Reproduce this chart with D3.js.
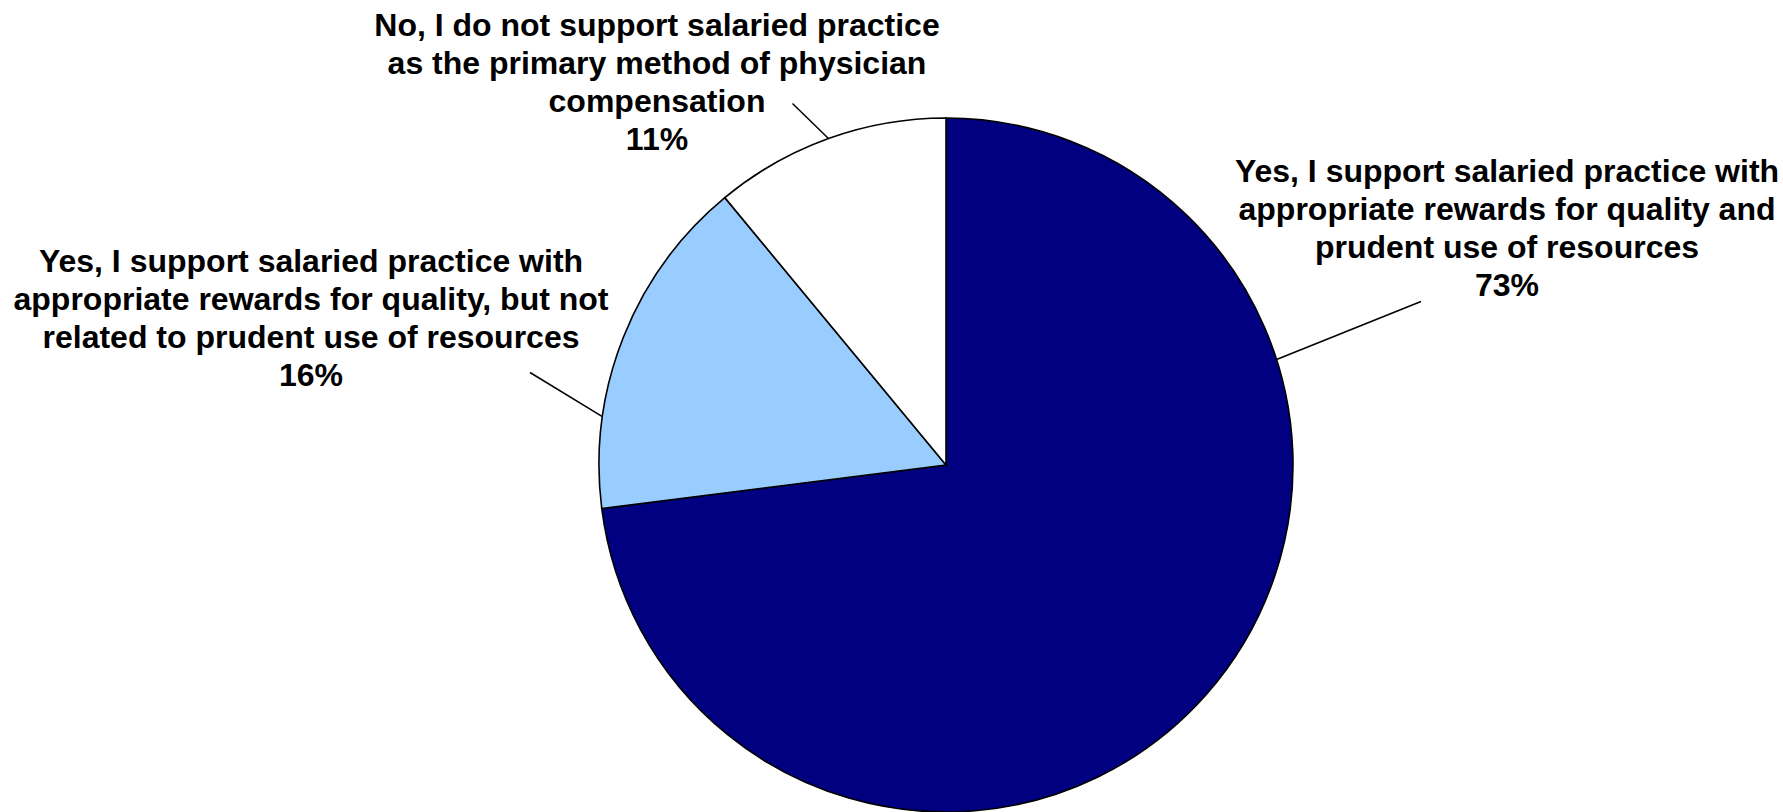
<!DOCTYPE html>
<html>
<head>
<meta charset="utf-8">
<script src="https://cdn.jsdelivr.net/npm/d3@7"></script>
<style>
  html, body { margin: 0; padding: 0; background: #ffffff; }
  svg { display: block; }
  text { font-family: "Liberation Sans", Arial, sans-serif; font-weight: bold; fill: #000; }
</style>
</head>
<body>
<svg id="chart" width="1783" height="812"></svg>
<script>
// ---- Data ----
const categories = [
  "Yes, I support salaried practice with appropriate rewards for quality and prudent use of resources",
  "Yes, I support salaried practice with appropriate rewards for quality, but not related to prudent use of resources",
  "No, I do not support salaried practice as the primary method of physician compensation"
];
const values = [73, 16, 11];
const labelLines = [
  ["Yes, I support salaried practice with", "appropriate rewards for quality and", "prudent use of resources"],
  ["Yes, I support salaried practice with", "appropriate rewards for quality, but not", "related to prudent use of resources"],
  ["No, I do not support salaried practice", "as the primary method of physician", "compensation"]
];
const colors = ["#000080", "#99CCFF", "#FFFFFF"];

// ---- Layout (positions / styles) ----
const layout = {
  cx: 946, cy: 465, r: 347,
  fontSize: 32, lineHeight: 38,
  // label block: centre x and first baseline y
  labels: [
    { x: 1507, y: 182 },
    { x: 311, y: 272 },
    { x: 657, y: 36 }
  ],
  // leader start (near label) and angle (deg, clockwise from 12 o'clock) where it meets the pie
  leaders: [
    { x: 1421, y: 301.5, angle: 72.3 },
    { x: 530, y: 372.5, angle: 278.0 },
    { x: 792.5, y: 103.5, angle: null } // null => slice mid-angle
  ]
};

const svg = d3.select("#chart");
const g = svg.append("g").attr("transform", `translate(${layout.cx},${layout.cy})`);

const pie = d3.pie().sort(null).value(d => d)(values);
const arc = d3.arc().innerRadius(0).outerRadius(layout.r);

g.selectAll("path.slice")
  .data(pie)
  .join("path")
  .attr("class", "slice")
  .attr("d", arc)
  .attr("fill", (d, i) => colors[i])
  .attr("stroke", "#000")
  .attr("stroke-width", 1.6)
  .attr("stroke-linejoin", "miter");

// leader lines
pie.forEach((d, i) => {
  const L = layout.leaders[i];
  const a = (L.angle == null ? (d.startAngle + d.endAngle) / 2 : L.angle * Math.PI / 180);
  const ex = layout.cx + layout.r * Math.sin(a);
  const ey = layout.cy - layout.r * Math.cos(a);
  svg.append("line")
    .attr("x1", L.x).attr("y1", L.y)
    .attr("x2", ex).attr("y2", ey)
    .attr("stroke", "#000").attr("stroke-width", 1.5);
});

// labels
const total = d3.sum(values);
pie.forEach((d, i) => {
  const P = layout.labels[i];
  const lines = labelLines[i].concat([Math.round(values[i] / total * 100) + "%"]);
  const t = svg.append("text")
    .attr("text-anchor", "middle")
    .attr("font-size", layout.fontSize);
  lines.forEach((ln, k) => {
    t.append("tspan").attr("x", P.x).attr("y", P.y + k * layout.lineHeight).text(ln);
  });
});
</script>
</body>
</html>
